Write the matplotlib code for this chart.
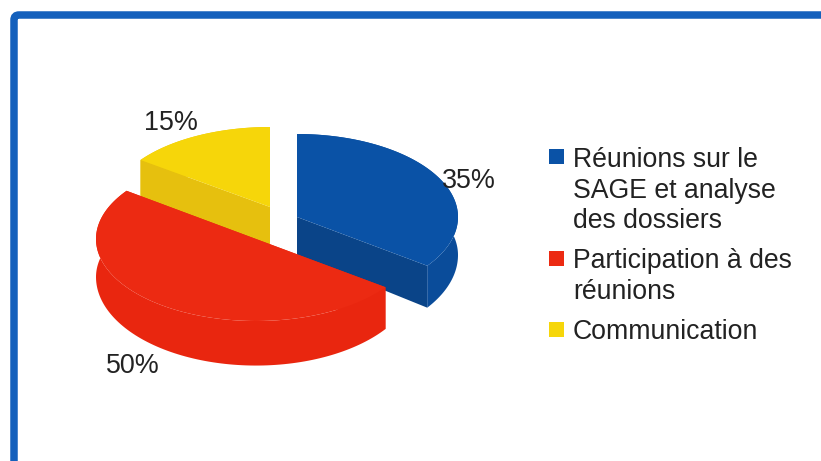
import numpy as np
import matplotlib
matplotlib.use('Agg')
import matplotlib.pyplot as plt
from matplotlib.patches import FancyBboxPatch, Rectangle

plt.rcParams['font.family'] = ['Liberation Sans', 'DejaVu Sans']

# data
categories = ['Réunions sur le\nSAGE et analyse\ndes dossiers', 'Participation à des\nréunions', 'Communication']
values = [35, 50, 15]

# colours: top face, outer wall, cut face
top_colors = ['#0A52A6', '#EC2A12', '#F6D60A']
wall_colors = ['#0A4C9A', '#E9260F', '#EBC60C']
cut_colors = ['#0A4488', '#E9260F', '#E6C00E']

# slice centres once exploded, in pixels
centers = [(297, 217), (256, 239), (270, 207)]
radii = [(161, 83), (160, 82), (160, 80)]
label_pos = [(442, 188), (106, 373), (144, 130)]
legend_y = [(549, 149), (549, 251), (549, 322)]
legend_text_y = [167, 268, 339]
line_step = 30.7


def depth(y, cy):
    # front of the pie looks a bit thicker than the back
    return 38 + np.maximum(y - cy, 0) * 0.08


def rim(cx, cy, rx, ry, a0, a1):
    # angles run clockwise from the top
    t = np.radians(np.linspace(a0, a1, 120))
    return cx + rx * np.sin(t), cy - ry * np.cos(t)


fig = plt.figure(figsize=(8.21, 4.61), dpi=100)
ax = fig.add_axes([0, 0, 1, 1])
ax.set_xlim(0, 821)
ax.set_ylim(461, 0)
ax.axis('off')

# frame runs off the right and bottom edges of the scan
ax.add_patch(FancyBboxPatch((14, 15), 900, 600, boxstyle='round,pad=0,rounding_size=5',
                            fc='white', ec='#1460BC', lw=5.4))

angle_edges = np.cumsum([0] + values) * 3.6

# back to front: yellow, blue, red
for i in [2, 0, 1]:
    cx, cy = centers[i]
    rx, ry = radii[i]
    a0, a1 = angle_edges[i], angle_edges[i + 1]
    x, y = rim(cx, cy, rx, ry, a0, a1)

    # outer wall
    wx = np.r_[x, x[::-1]]
    wy = np.r_[y, (y + depth(y, cy))[::-1]]
    ax.fill(wx, wy, color=wall_colors[i], lw=0)

    # cut face that looks to the viewer
    for k in [0, -1]:
        qx = [cx, x[k], x[k], cx]
        qy = [cy, y[k], y[k] + depth(y[k], cy), cy + depth(cy, cy)]
        ax.fill(qx, qy, color=cut_colors[i], lw=0)

    # top face
    ax.fill(np.r_[cx, x], np.r_[cy, y], color=top_colors[i], lw=0)

for v, (lx, ly) in zip(values, label_pos):
    ax.text(lx, ly, f'{v}%', fontsize=19.4, color='#222222', ha='left', va='baseline')

for i, name in enumerate(categories):
    sx, sy = legend_y[i]
    ax.add_patch(Rectangle((sx, sy), 15, 15, fc=top_colors[i], ec='none'))
    for j, line in enumerate(name.split('\n')):
        ax.text(573, legend_text_y[i] + j * line_step, line, fontsize=19.2, color='#222222',
                ha='left', va='baseline')

fig.savefig('out.png', dpi=100)
